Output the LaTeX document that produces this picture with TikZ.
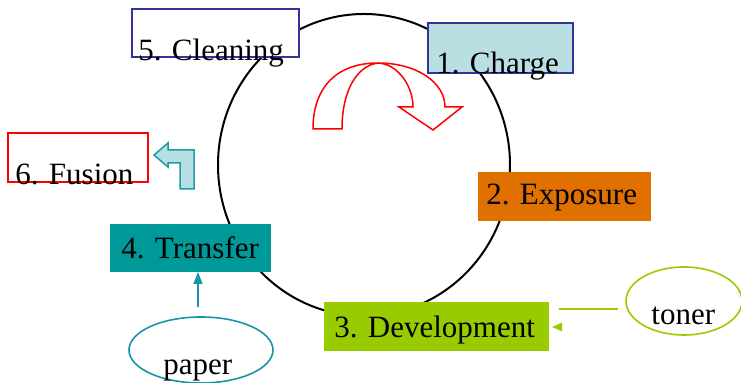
\documentclass[tikz,border=0pt]{standalone}
\usepackage{fontspec}
\setmainfont{Liberation Serif}
\usetikzlibrary{shapes.geometric,arrows.meta}
\definecolor{bluebd}{HTML}{333399}
\definecolor{chargefill}{HTML}{B9DFE3}
\definecolor{expfill}{HTML}{E07000}
\definecolor{transfill}{HTML}{009999}
\definecolor{devfill}{HTML}{99CC00}
\definecolor{bentfill}{HTML}{B7DEE3}
\definecolor{bentbd}{HTML}{1E9AA8}
\definecolor{paperbd}{HTML}{1496A6}
\begin{document}
\begin{tikzpicture}[x=0.5pt,y=-0.5pt,
  box/.style={rectangle, inner sep=0pt, outer sep=0pt, line width=0.75pt},
  lbl/.style={anchor=base west, inner sep=0pt, font=\fontsize{15.5}{18}\selectfont},
  oval/.style={ellipse, draw, inner sep=0pt, outer sep=0pt, line width=0.8pt}]
\useasboundingbox (0,0) rectangle (741,383);
% drum
\node[ellipse, draw, line width=1pt, inner sep=0pt, minimum width=146pt, minimum height=151pt] (drum) at (364,165) {};
% boxes
\node[box, draw=bluebd, fill=chargefill, minimum width=72.5pt, minimum height=25pt] (charge) at (500.5,48) {};
\node[box, draw=bluebd, fill=white, minimum width=83.5pt, minimum height=24pt] (clean) at (215.5,33) {};
\node[box, draw=red, fill=white, minimum width=70pt, minimum height=24.5pt] (fusion) at (78,157.5) {};
\node[box, fill=expfill, minimum width=86.5pt, minimum height=24.5pt] (expo) at (564.5,196.5) {};
\node[box, fill=transfill, minimum width=80.5pt, minimum height=24pt] (transfer) at (190.5,248) {};
\node[box, fill=devfill, minimum width=112.5pt, minimum height=24.5pt] (dev) at (436.5,326.5) {};
% labels
\node[lbl] (tcharge) at (436,74) {1. Charge};
\node[lbl] (tclean) at (138,61) {5. Cleaning};
\node[lbl] (tfusion) at (15,185) {6. Fusion};
\node[lbl] (texpo) at (486,205) {2. Exposure};
\node[lbl] (ttransfer) at (121,259) {4. Transfer};
\node[lbl] (tdev) at (334,338) {3. Development};
% ovals
\node[oval, draw=devfill, minimum width=58pt, minimum height=34pt] (toner) at (684,301) {};
\node[lbl] (ttoner) at (651,325) {toner};
\node[oval, draw=paperbd, minimum width=72pt, minimum height=33pt] (paper) at (201,350) {};
\node[lbl] (tpaper) at (163,375) {paper};
% connectors
\coordinate (pline) at (198,0);
\draw[paperbd, line width=0.8pt, shorten <=5pt, -{Triangle[length=6pt,width=4.5pt]}] (paper.north -| pline) -- (transfer.south -| pline);
\coordinate (tonerend) at (559,309);
\draw[devfill, line width=0.8pt] ([xshift=-4pt,yshift=-4pt]toner.west) -- (tonerend);
\fill[devfill] ([xshift=1.5pt,yshift=-0.25pt]dev.east) -- ++(5pt,2.2pt) -- ++(0,-4.4pt) -- cycle;
% red curved arrow
\draw[red, line width=0.75pt, line join=miter]
  (313,129) .. controls (313,86) and (338,63) .. (378,63)
  .. controls (416,63) and (445,82) .. (445,107)
  -- (462,107) -- (433,130) -- (399,107) -- (413,107)
  .. controls (413,86) and (398,64) .. (378,63)
  .. controls (356,66) and (342,92) .. (342,129) -- cycle;
% bent arrow
\draw[bentbd, fill=bentfill, line width=0.75pt]
  (154,155) -- (168,143) -- (168,150) -- (194,150) -- (194,189) -- (180,189)
  -- (180,163) -- (168,163) -- (168,167) -- cycle;
\end{tikzpicture}
\end{document}
